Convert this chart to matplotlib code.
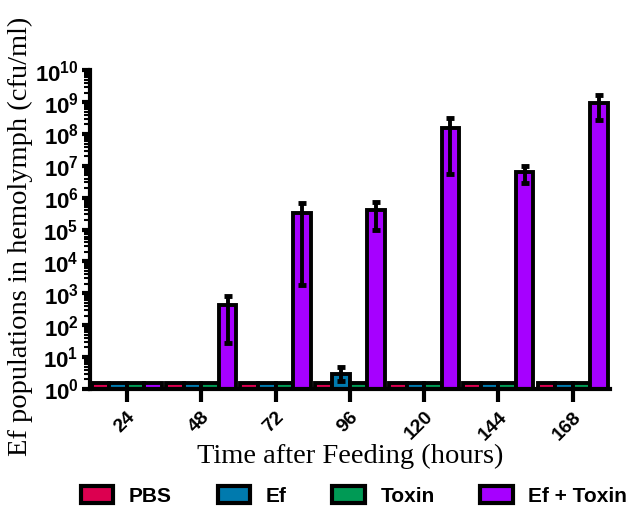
import matplotlib
matplotlib.use('Agg')
import matplotlib.pyplot as plt
import numpy as np

plt.rcParams['mathtext.fontset'] = 'custom'
plt.rcParams['mathtext.bf'] = 'Liberation Sans:bold'
plt.rcParams['mathtext.rm'] = 'Liberation Sans:bold'

hours = ['24', '48', '72', '96', '120', '144', '168']
groups = ['PBS', 'Ef', 'Toxin', 'Ef + Toxin']
colors = ['#DC0050', '#007AAE', '#009A55', '#A600FF']

# mean cfu/ml per group and time point
pbs = [1.5, 1.5, 1.5, 1.5, 1.5, 1.5, 1.5]
ef = [1.5, 1.5, 1.5, 3.0, 1.5, 1.5, 1.5]
toxin = [1.5, 1.5, 1.5, 1.5, 1.5, 1.5, 1.5]
ef_toxin = [1.5, 430, 3.3e5, 4.1e5, 1.5e8, 6.3e6, 9.3e8]

# error bar ends (low, high)
ef_hi = [None, None, None, 5.0, None, None, None]
ef_lo = [None, None, None, 1.8, None, None, None]
et_hi = [None, 830, 6.8e5, 7.2e5, 3.2e8, 9.8e6, 1.65e9]
et_lo = [None, 28, 1800, 9.6e4, 5.5e6, 2.9e6, 2.7e8]

series = [pbs, ef, toxin, ef_toxin]
his = [None, ef_hi, None, et_hi]
los = [None, ef_lo, None, et_lo]

fig = plt.figure(figsize=(6.28, 5.09), dpi=100)
ax = fig.add_axes([0.143, 0.236, 0.828, 0.626])

x = np.arange(len(hours))
w = 0.236
for i, (vals, c) in enumerate(zip(series, colors)):
    pos = x + (i - 1.5) * w
    ax.bar(pos, vals, width=w, bottom=0, color=c, edgecolor='black',
           linewidth=2.8, label=groups[i], zorder=2)
    if his[i] is not None:
        for p, v, lo, hi in zip(pos, vals, los[i], his[i]):
            if hi is None:
                continue
            ax.errorbar(p, v, yerr=[[v - lo], [hi - v]], fmt='none',
                        ecolor='black', elinewidth=2.8, capsize=3,
                        capthick=3.5, zorder=3)

ax.set_yscale('log')
ax.set_ylim(1, 1e10)
ax.set_xlim(-0.5, len(hours) - 0.5)
ax.set_yticks([10.0 ** k for k in range(11)])
ax.set_yticklabels([r'$\mathbf{10^{%d}}$' % k for k in range(11)], fontsize=16)
ax.yaxis.set_minor_locator(matplotlib.ticker.LogLocator(base=10, subs=np.arange(2, 10), numticks=100))
ax.yaxis.set_minor_formatter(matplotlib.ticker.NullFormatter())
ax.set_xticks(x)
ax.set_xticklabels(hours, rotation=45, fontweight='bold', fontsize=14,
                   family='Liberation Sans', ha='right', rotation_mode='anchor')

for s in ['top', 'right']:
    ax.spines[s].set_visible(False)
for s in ['left', 'bottom']:
    ax.spines[s].set_linewidth(3)
ax.tick_params(axis='y', which='major', width=3, length=6, pad=2)
ax.tick_params(axis='y', which='minor', width=1.5, length=4)
ax.tick_params(axis='x', width=3, length=9, pad=5)

ax.set_ylabel('Ef populations in hemolymph (cfu/ml)', family='Liberation Serif',
              fontsize=20.5)
ax.yaxis.set_label_coords(-0.11, 0.48)
ax.set_xlabel('Time after Feeding (hours)', family='Liberation Serif',
              fontsize=20.5, labelpad=0)

leg = fig.legend(loc='center', bbox_to_anchor=(0.564, 0.025), ncol=4,
                 frameon=False, prop={'family': 'Liberation Sans', 'weight': 'bold', 'size': 15},
                 handlelength=1.55, handleheight=0.87, columnspacing=2.2, handletextpad=0.75)
for h in leg.legend_handles:
    h.set_linewidth(3)

fig.savefig('out.png', dpi=100)
